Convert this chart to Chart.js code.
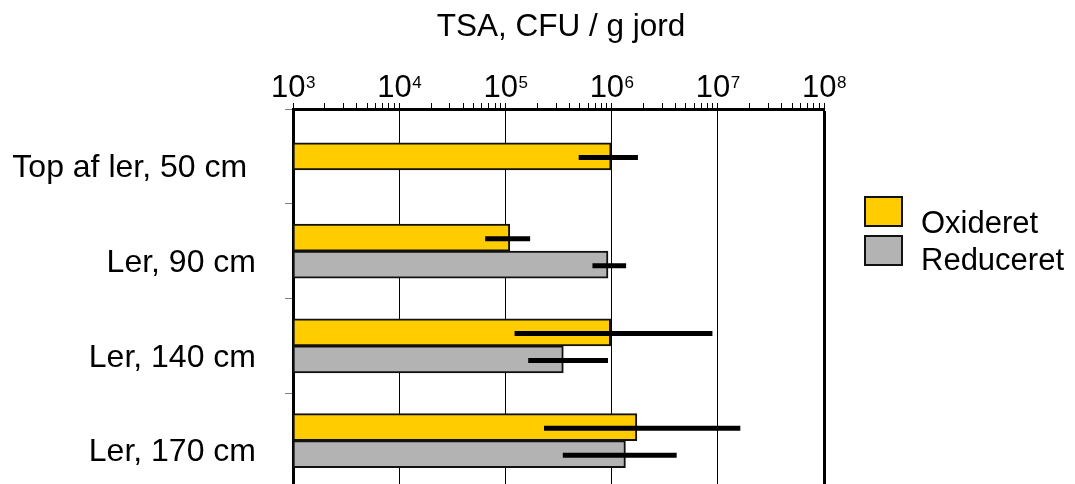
<!DOCTYPE html>
<html><head><meta charset="utf-8">
<script src="https://cdn.jsdelivr.net/npm/chart.js@4/dist/chart.umd.min.js"></script>
<style>
html,body{margin:0;padding:0;background:#fff;overflow:hidden;width:1075px;height:484px}
canvas{display:block}
</style></head>
<body><canvas id="c" width="1075" height="492"></canvas>
<script>
const categories = ['Top af ler, 50 cm ', 'Ler, 90 cm', 'Ler, 140 cm', 'Ler, 170 cm'];
const seriesNames = ['Oxideret', 'Reduceret'];
const oxideret = [9.9e5, 1.10e5, 9.8e5, 1.73e6];
const reduceret = [null, 9.25e5, 3.51e5, 1.35e6];
const oxideretErrLow = [4.9e5, 6.45e4, 1.22e5, 2.31e5];
const oxideretErrHigh = [1.77e6, 1.71e5, 8.9e6, 1.63e7];
const reduceretErrLow = [null, 6.6e5, 1.64e5, 3.47e5];
const reduceretErrHigh = [null, 1.37e6, 9.25e5, 4.1e6];
const tickExponents = [3, 4, 5, 6, 7, 8];
const tickBase = '10';
const axisTitle = 'TSA, CFU / g jord';

const FONT = '"Liberation Sans", Arial, Helvetica, sans-serif';
const errLow = [oxideretErrLow, reduceretErrLow];
const errHigh = [oxideretErrHigh, reduceretErrHigh];

function isDecade(v) {
  const l = Math.log10(v);
  return Math.abs(l - Math.round(l)) < 1e-9;
}

const errorBars = {
  id: 'errorBars',
  afterDatasetsDraw(chart) {
    const ctx = chart.ctx, xs = chart.scales.x;
    ctx.save();
    ctx.strokeStyle = '#000';
    ctx.lineWidth = 5;
    ctx.lineCap = 'butt';
    chart.data.datasets.forEach((ds, d) => {
      const meta = chart.getDatasetMeta(d);
      meta.data.forEach((bar, i) => {
        const lo = errLow[d][i], hi = errHigh[d][i];
        if (ds.data[i] == null || lo == null || hi == null) return;
        const y = bar.y + 1;
        ctx.beginPath();
        ctx.moveTo(xs.getPixelForValue(lo), y);
        ctx.lineTo(xs.getPixelForValue(hi), y);
        ctx.stroke();
      });
    });
    ctx.restore();
  }
};

const decorations = {
  id: 'decorations',
  afterDraw(chart) {
    const ctx = chart.ctx, xs = chart.scales.x;
    ctx.save();
    ctx.fillStyle = '#000';
    ctx.textBaseline = 'alphabetic';
    // title
    ctx.textAlign = 'center';
    ctx.font = '31.5px ' + FONT;
    ctx.fillText(axisTitle, 561, 36);
    ctx.textAlign = 'left';
    // superscript tick labels
    tickExponents.forEach(e => {
      const x = xs.getPixelForValue(Math.pow(10, e));
      ctx.font = '31px ' + FONT;
      const w1 = ctx.measureText(tickBase).width;
      ctx.font = '17px ' + FONT;
      const sup = String(e);
      const w2 = ctx.measureText(sup).width;
      const left = x - (w1 + w2) / 2;
      ctx.font = '31px ' + FONT;
      ctx.fillText(tickBase, left, 97);
      ctx.font = '17px ' + FONT;
      ctx.fillText(sup, left + w1 + 0.5, 87.5);
    });
    // legend
    chart.data.datasets.forEach((ds, d) => {
      const by = 196 + d * 39;
      ctx.fillStyle = ds.backgroundColor;
      ctx.fillRect(864, by, 39, 31);
      ctx.strokeStyle = '#111';
      ctx.lineWidth = 2;
      ctx.strokeRect(865, by + 1, 37, 29);
      ctx.fillStyle = '#000';
      ctx.font = '31px ' + FONT;
      ctx.fillText(ds.label, 921, 233 + d * 37);
    });
    ctx.restore();
  }
};

new Chart(document.getElementById('c'), {
  type: 'bar',
  data: {
    labels: categories,
    datasets: [
      { label: seriesNames[0], data: oxideret, backgroundColor: '#FFCC00', borderColor: '#111', borderWidth: 2, borderSkipped: false, barThickness: 27 },
      { label: seriesNames[1], data: reduceret, backgroundColor: '#B3B3B3', borderColor: '#111', borderWidth: 2, borderSkipped: false, barThickness: 27 }
    ]
  },
  options: {
    indexAxis: 'y',
    responsive: false,
    maintainAspectRatio: false,
    animation: false,
    skipNull: true,
    layout: { padding: { left: 0, right: 251, top: 0, bottom: 4 } },
    plugins: {
      legend: { display: false },
      tooltip: { enabled: false },
      title: { display: false }
    },
    scales: {
      x: {
        type: 'logarithmic',
        position: 'top',
        min: Math.pow(10, tickExponents[0]),
        max: Math.pow(10, tickExponents[tickExponents.length - 1]),
        afterBuildTicks(scale) {
          const t = [];
          for (let k = 0; k < tickExponents.length - 1; k++) {
            for (let m = 1; m <= 9; m++) t.push({ value: m * Math.pow(10, tickExponents[k]) });
          }
          t.push({ value: Math.pow(10, tickExponents[tickExponents.length - 1]) });
          scale.ticks = t;
        },
        afterFit(scale) { scale.height = 109; scale.paddingLeft = 0; scale.paddingRight = 0; },
        ticks: { display: false, autoSkip: false },
        border: { display: true, color: '#000', width: 3 },
        grid: {
          display: true,
          drawOnChartArea: true,
          drawTicks: true,
          tickLength: 6,
          tickColor: '#000',
          tickWidth: 1,
          color: c => (c.tick && isDecade(c.tick.value)) ? '#000' : 'rgba(0,0,0,0)',
          lineWidth: c => (c.tick && c.tick.value >= Math.pow(10, tickExponents[tickExponents.length - 1])) ? 3 : 1
        }
      },
      y: {
        type: 'category',
        afterFit(scale) { scale.width = 293; scale.paddingTop = 0; scale.paddingBottom = 0; },
        ticks: {
          color: '#000',
          font: { family: FONT, size: 32 },
          padding: 29,
          labelOffset: 12,
          autoSkip: false
        },
        border: { display: true, color: '#000', width: 3 },
        grid: {
          display: true,
          offset: true,
          drawOnChartArea: false,
          drawTicks: true,
          tickLength: 8,
          color: '#808080',
          lineWidth: 1
        }
      }
    }
  },
  plugins: [errorBars, decorations]
});
</script>
</body></html>
